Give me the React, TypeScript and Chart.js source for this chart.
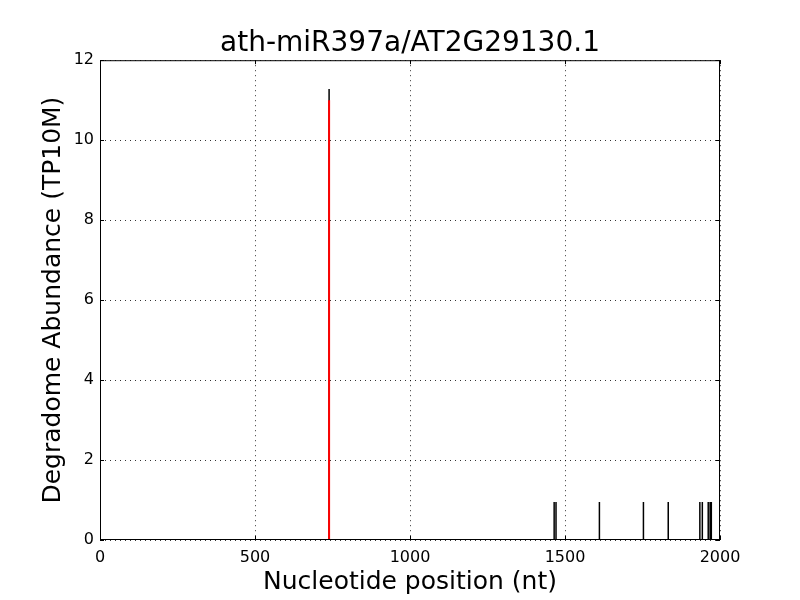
import React, { useEffect, useRef } from "react";
import { Chart, registerables } from "chart.js";

Chart.register(...registerables);

const titleText = "ath-miR397a/AT2G29130.1";
const xLabel = "Nucleotide position (nt)";
const yLabel = "Degradome Abundance (TP10M)";

// Degradome read positions (nt) and abundances (TP10M)
const positions = [739, 1465, 1471, 1611, 1753, 1833, 1935, 1943, 1962, 1968, 1972];
const abundances = [11.28, 0.95, 0.95, 0.95, 0.95, 0.95, 0.95, 0.95, 0.95, 0.95, 0.95];

// Predicted cleavage site (red)
const sitePositions = [739];
const siteAbundances = [11];

const xTicks = [0, 500, 1000, 1500, 2000];
const yTicks = [0, 2, 4, 6, 8, 10, 12];

function stems(xs: number[], ys: number[]) {
  const out: { x: number; y: number | null }[] = [];
  xs.forEach((x, i) => {
    out.push({ x, y: 0 });
    out.push({ x, y: ys[i] });
    out.push({ x, y: null });
  });
  return out;
}

const framePlugin = {
  id: "frame",
  afterDraw(chart: any) {
    const { ctx, chartArea } = chart;
    const { left, right, top, bottom } = chartArea;
    const xs = chart.scales.x;
    const ys = chart.scales.y;
    ctx.save();
    ctx.strokeStyle = "#000";
    ctx.lineWidth = 1;
    ctx.beginPath();
    const L = 4;
    xs.ticks.forEach((t: any) => {
      const px = Math.round(xs.getPixelForValue(t.value)) + 0.5;
      ctx.moveTo(px, bottom);
      ctx.lineTo(px, bottom - L);
      ctx.moveTo(px, top);
      ctx.lineTo(px, top + L);
    });
    ys.ticks.forEach((t: any) => {
      const py = Math.round(ys.getPixelForValue(t.value)) + 0.5;
      ctx.moveTo(left, py);
      ctx.lineTo(left + L, py);
      ctx.moveTo(right, py);
      ctx.lineTo(right - L, py);
    });
    ctx.stroke();
    ctx.strokeRect(left + 0.5, top + 0.5, right - left - 1, bottom - top - 1);
    ctx.restore();
  },
};

export default function App() {
  const ref = useRef<HTMLCanvasElement | null>(null);
  useEffect(() => {
    if (!ref.current) return;
    const chart = new Chart(ref.current, {
      type: "line",
      data: {
        datasets: [
          {
            data: stems(sitePositions, siteAbundances) as any,
            borderColor: "#ff0000",
            borderWidth: 2,
            pointRadius: 0,
            spanGaps: false,
          },
          {
            data: stems(positions, abundances) as any,
            borderColor: "#000",
            borderWidth: 1.5,
            pointRadius: 0,
            spanGaps: false,
          },
        ],
      },
      options: {
        animation: false,
        responsive: false,
        layout: { padding: { left: 0, right: 80, top: 0, bottom: 0 } },
        plugins: {
          legend: { display: false },
          tooltip: { enabled: false },
          title: {
            display: true,
            fullSize: false,
            text: titleText,
            color: "#000",
            font: { family: "DejaVu Sans", size: 28, weight: "normal", lineHeight: 1.15 },
            padding: { top: 28, bottom: 0 },
          },
        },
        scales: {
          x: {
            type: "linear",
            min: 0,
            max: 2000,
            afterBuildTicks: (s: any) => {
              s.ticks = xTicks.map((v) => ({ value: v }));
            },
            afterFit: (s: any) => {
              s.height = 60;
            },
            grid: {
              color: "#000",
              lineWidth: 0.8,
              drawTicks: false,
            },
            border: { display: false, dash: [1, 4] },
            ticks: {
              color: "#000",
              padding: 8,
              maxRotation: 0,
              font: { family: "DejaVu Sans", size: 16 },
              callback: (v: any) => String(v),
            },
            title: {
              display: true,
              text: xLabel,
              color: "#000",
              font: { family: "DejaVu Sans", size: 25 },
              padding: { top: 0, bottom: 3 },
            },
          },
          y: {
            type: "linear",
            min: 0,
            max: 12,
            afterBuildTicks: (s: any) => {
              s.ticks = yTicks.map((v) => ({ value: v }));
            },
            afterFit: (s: any) => {
              s.width = 100;
            },
            grid: {
              color: "#000",
              lineWidth: 0.8,
              drawTicks: false,
            },
            border: { display: false, dash: [1, 4] },
            ticks: {
              color: "#000",
              padding: 6,
              font: { family: "DejaVu Sans", size: 16 },
              callback: (v: any) => String(v),
            },
            title: {
              display: true,
              text: yLabel,
              color: "#000",
              font: { family: "DejaVu Sans", size: 25 },
              padding: { top: 38, bottom: 0 },
            },
          },
        },
      },
      plugins: [framePlugin],
    });
    return () => chart.destroy();
  }, []);
  return (
    <div style={{ position: "fixed", left: 0, top: 0, width: 800, height: 600, background: "#fff" }}>
      <canvas ref={ref} width={800} height={600} style={{ width: 800, height: 600 }} />
    </div>
  );
}
